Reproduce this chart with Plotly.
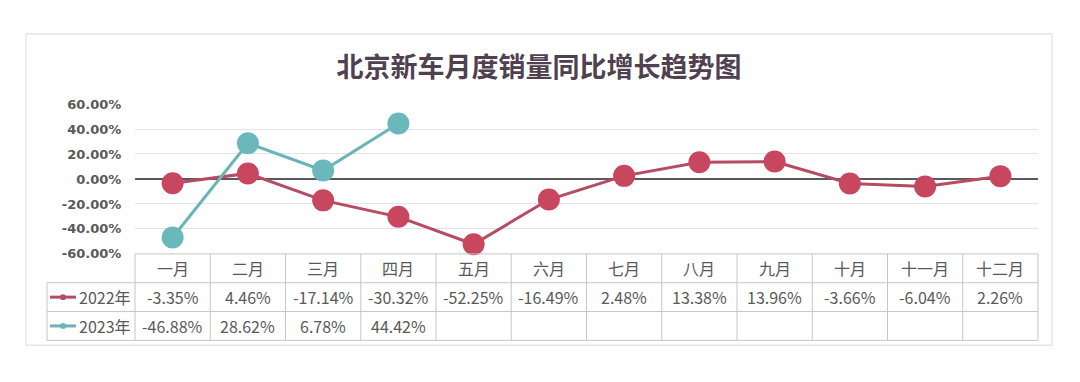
import plotly.graph_objects as go

# ---------------- data ----------------
months = ["一月", "二月", "三月", "四月", "五月", "六月",
          "七月", "八月", "九月", "十月", "十一月", "十二月"]
series_names = ["2022年", "2023年"]
yoy_2022 = [-3.35, 4.46, -17.14, -30.32, -52.25, -16.49, 2.48, 13.38, 13.96, -3.66, -6.04, 2.26]
yoy_2023 = [-46.88, 28.62, 6.78, 44.42]
ytick_vals = [-60, -40, -20, 0, 20, 40, 60]
ytick_text = ["-60.00%", "-40.00%", "-20.00%", "0.00%", "20.00%", "40.00%", "60.00%"]
title_text = "北京新车月度销量同比增长趋势图"

# ---------------- styling ----------------
W, H = 1080, 382
RED_M, RED_L = "#C8475E", "#B64B64"
TEAL_M, TEAL_L = "#6AB8BC", "#6AB4B8"
GRAY_TXT = "#595959"
TABLE_LINE = "#c6c6c6"
CJK = "Noto Sans CJK SC"


def px(x):
    return x / W


def py(y):
    return 1 - y / H


PLOT_L, PLOT_R = 135, 1038
COLW = (PLOT_R - PLOT_L) / len(months)
LEG_L = 47
ROW_Y = [257, 287, 317, 347]

fig = go.Figure()
fig.add_trace(go.Scatter(
    x=months, y=yoy_2022, name=series_names[0], mode="lines+markers",
    line=dict(color=RED_L, width=3),
    marker=dict(color=RED_M, size=22, line=dict(width=0)),
    cliponaxis=False,
))
fig.add_trace(go.Scatter(
    x=months[:len(yoy_2023)], y=yoy_2023, name=series_names[1], mode="lines+markers",
    line=dict(color=TEAL_L, width=3),
    marker=dict(color=TEAL_M, size=22, line=dict(width=0)),
    cliponaxis=False,
))

shapes = []
# outer frame
shapes.append(dict(type="rect", xref="paper", yref="paper",
                   x0=px(26), x1=px(1052), y0=py(352), y1=py(28),
                   line=dict(color="#d9d9d9", width=1), layer="below"))
# table horizontal lines
shapes.append(dict(type="line", xref="paper", yref="paper",
                   x0=px(PLOT_L), x1=px(PLOT_R), y0=py(ROW_Y[0]), y1=py(ROW_Y[0]),
                   line=dict(color=TABLE_LINE, width=1)))
for yy in ROW_Y[1:]:
    shapes.append(dict(type="line", xref="paper", yref="paper",
                       x0=px(LEG_L), x1=px(PLOT_R), y0=py(yy), y1=py(yy),
                       line=dict(color=TABLE_LINE, width=1)))
# table vertical lines
for i in range(len(months) + 1):
    xx = PLOT_L + i * COLW
    shapes.append(dict(type="line", xref="paper", yref="paper",
                       x0=px(xx), x1=px(xx), y0=py(ROW_Y[0]), y1=py(ROW_Y[3]),
                       line=dict(color=TABLE_LINE, width=1)))
shapes.append(dict(type="line", xref="paper", yref="paper",
                   x0=px(LEG_L), x1=px(LEG_L), y0=py(ROW_Y[1]), y1=py(ROW_Y[3]),
                   line=dict(color=TABLE_LINE, width=1)))

annotations = []
row_centers = [(ROW_Y[k] + ROW_Y[k + 1]) / 2 for k in range(3)]
# header months
for m in months:
    annotations.append(dict(x=m, xref="x", y=py(row_centers[0]), yref="paper",
                            text=m, showarrow=False, xanchor="center", yanchor="middle",
                            font=dict(family=CJK, size=16, color=GRAY_TXT)))
# value rows
for vals, rc in ((yoy_2022, row_centers[1]), (yoy_2023, row_centers[2])):
    for m, v in zip(months, vals):
        annotations.append(dict(x=m, xref="x", y=py(rc), yref="paper",
                                text=f"{v:.2f}%", showarrow=False,
                                xanchor="center", yanchor="middle",
                                font=dict(family=CJK, size=16, color=GRAY_TXT)))
# legend keys in table
for name, col, rc in ((series_names[0], RED_L, row_centers[1]),
                      (series_names[1], TEAL_L, row_centers[2])):
    shapes.append(dict(type="line", xref="paper", yref="paper",
                       x0=px(50), x1=px(76), y0=py(rc), y1=py(rc),
                       line=dict(color=col, width=3)))
    shapes.append(dict(type="circle", xref="paper", yref="paper",
                       x0=px(60), x1=px(66), y0=py(rc + 3), y1=py(rc - 3),
                       fillcolor=col, line=dict(color=col, width=0)))
    annotations.append(dict(x=px(77), xref="paper", y=py(rc), yref="paper",
                            text=name, showarrow=False, xanchor="left", yanchor="middle",
                            font=dict(family=CJK, size=16, color=GRAY_TXT)))

fig.update_layout(
    width=W, height=H,
    margin=dict(l=0, r=0, t=0, b=0),
    paper_bgcolor="white", plot_bgcolor="white",
    showlegend=False,
    title=dict(text=title_text, x=px(539), y=py(63), xanchor="center", yanchor="middle",
               xref="paper", yref="paper",
               font=dict(family=CJK, size=27, color="#4f4150", weight="bold")),
    xaxis=dict(domain=[px(PLOT_L), px(PLOT_R)], range=[-0.5, len(months) - 0.5],
               type="category", categoryorder="array", categoryarray=months,
               showticklabels=False, showgrid=False, zeroline=False, showline=False,
               ticks=""),
    yaxis=dict(domain=[py(257), py(101)], range=[-60, 60],
               tickvals=ytick_vals, ticktext=ytick_text,
               ticks="outside", ticklen=10, tickcolor="rgba(0,0,0,0)",
               tickfont=dict(family="DejaVu Sans", size=13, color=GRAY_TXT, weight="bold"),
               showgrid=True, gridcolor="#e4e4e4", gridwidth=1,
               zeroline=True, zerolinecolor="#595959", zerolinewidth=2,
               showline=False),
    shapes=shapes,
    annotations=annotations,
)

fig.write_html("out.html", config={"displayModeBar": False},
               post_script="document.body.style.margin='0';document.body.style.overflow='hidden';")
